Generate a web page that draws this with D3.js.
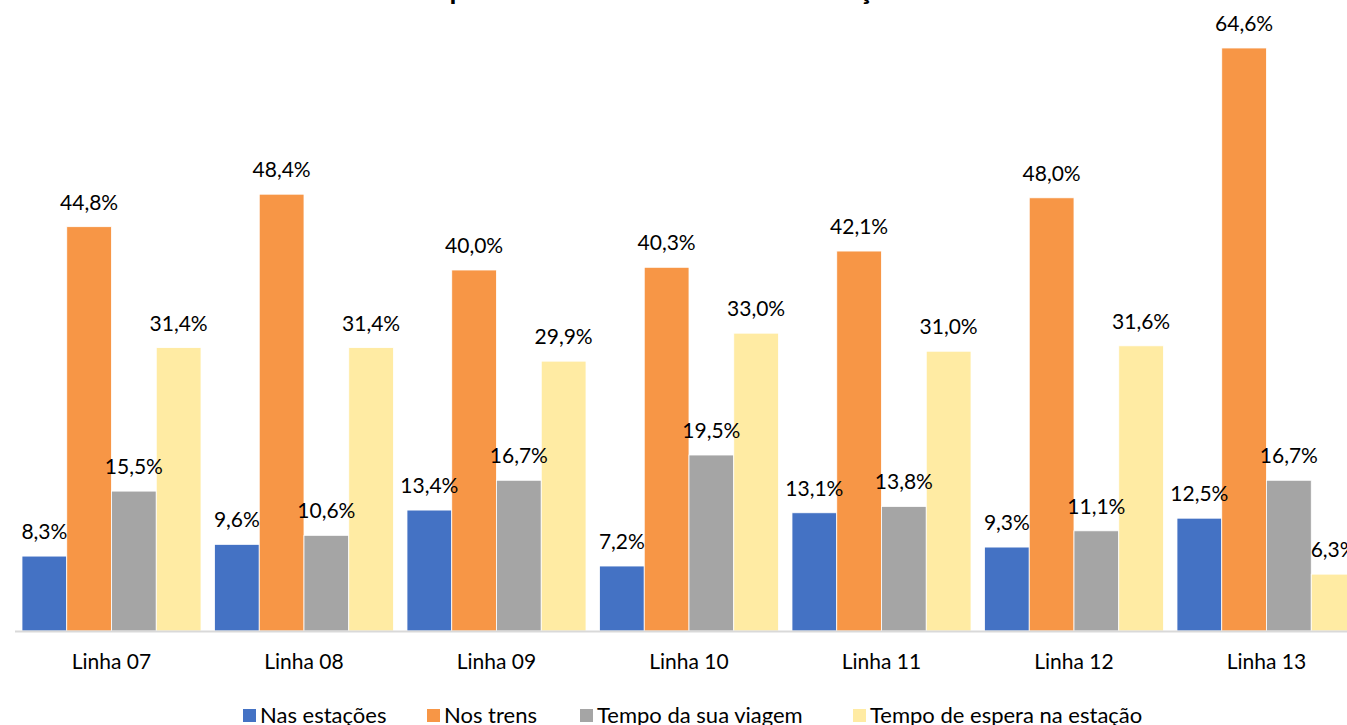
<!DOCTYPE html>
<html>
<head>
<meta charset="utf-8">
<script src="https://cdn.jsdelivr.net/npm/d3@7"></script>
<style>
  html, body { margin: 0; padding: 0; background: #fff; overflow: hidden; }
  svg { display: block; font-family: Lato, "Open Sans", sans-serif; }
</style>
</head>
<body>
<svg id="chart" width="1347" height="725"></svg>
<script>
const categories = ["Linha 07", "Linha 08", "Linha 09", "Linha 10", "Linha 11", "Linha 12", "Linha 13"];
const seriesNames = ["Nas estações", "Nos trens", "Tempo da sua viagem", "Tempo de espera na estação"];
const nasEstacoes = [8.3, 9.6, 13.4, 7.2, 13.1, 9.3, 12.5];
const nosTrens = [44.8, 48.4, 40.0, 40.3, 42.1, 48.0, 64.6];
const tempoViagem = [15.5, 10.6, 16.7, 19.5, 13.8, 11.1, 16.7];
const tempoEspera = [31.4, 31.4, 29.9, 33.0, 31.0, 31.6, 6.3];
const colors = ["#4472C4", "#F79646", "#A5A5A5", "#FFEBA3"];
const titleText = "Opinião sobre o local de maior lotação";

const seriesValues = [nasEstacoes, nosTrens, tempoViagem, tempoEspera];
const svg = d3.select("#chart");

const baseY = 631;
const x0 = d3.scaleBand().domain(categories).range([15.25, 1362.75]).paddingInner(0.07).paddingOuter(0.035);
const x1 = d3.scaleBand().domain(seriesNames).range([0, x0.bandwidth()]).padding(0);
const y = d3.scaleLinear().domain([0, 70]).range([baseY, baseY - 70 * 9.025]);

const fmt = v => d3.format(".1f")(v).replace(".", ",") + "%";

// title (mostly cut off at top, as in the reference)
svg.append("text")
  .attr("x", 427).attr("y", -1)
  .attr("font-size", 28).attr("font-weight", "bold").attr("fill", "#000")
  .text(titleText);

const groups = svg.selectAll("g.cat").data(categories).join("g")
  .attr("class", "cat")
  .attr("transform", d => `translate(${x0(d)},0)`);

groups.each(function(cat, ci) {
  const g = d3.select(this);
  seriesNames.forEach((s, si) => {
    const v = seriesValues[si][ci];
    g.append("rect")
      .attr("x", x1(s)).attr("width", x1.bandwidth())
      .attr("y", y(v)).attr("height", y(0) - y(v))
      .attr("fill", colors[si])
      .attr("stroke", "#fff").attr("stroke-width", 0.8);
  });
  seriesNames.forEach((s, si) => {
    const v = seriesValues[si][ci];
    g.append("text")
      .attr("x", x1(s) + x1.bandwidth() / 2)
      .attr("y", y(v) - 17)
      .attr("text-anchor", "middle")
      .attr("font-size", 21).attr("fill", "#000")
      .text(fmt(v));
  });
});

// axis line
svg.append("line").attr("x1", 15).attr("x2", 1347).attr("y1", baseY + 0.5).attr("y2", baseY + 0.5)
  .attr("stroke", "#D9D9D9").attr("stroke-width", 2);

// category axis labels
const xAxis = d3.axisBottom(x0).tickSize(0).tickPadding(0);
const ax = svg.append("g").attr("transform", `translate(0,${baseY})`).call(xAxis);
ax.select(".domain").remove();
ax.selectAll("text").attr("font-size", 21).attr("fill", "#000")
  .attr("font-family", "Lato, 'Open Sans', sans-serif")
  .attr("dy", null).attr("y", 38);

// legend
const legendX = [243, 427, 580, 853];
const lg = svg.selectAll("g.leg").data(seriesNames).join("g")
  .attr("class", "leg")
  .attr("transform", (d, i) => `translate(${legendX[i]},709)`);
lg.append("rect").attr("width", 13).attr("height", 13).attr("fill", (d, i) => colors[i]);
lg.append("text").attr("x", 17).attr("y", 14).attr("font-size", 22).attr("fill", "#000").text(d => d);
</script>
</body>
</html>
